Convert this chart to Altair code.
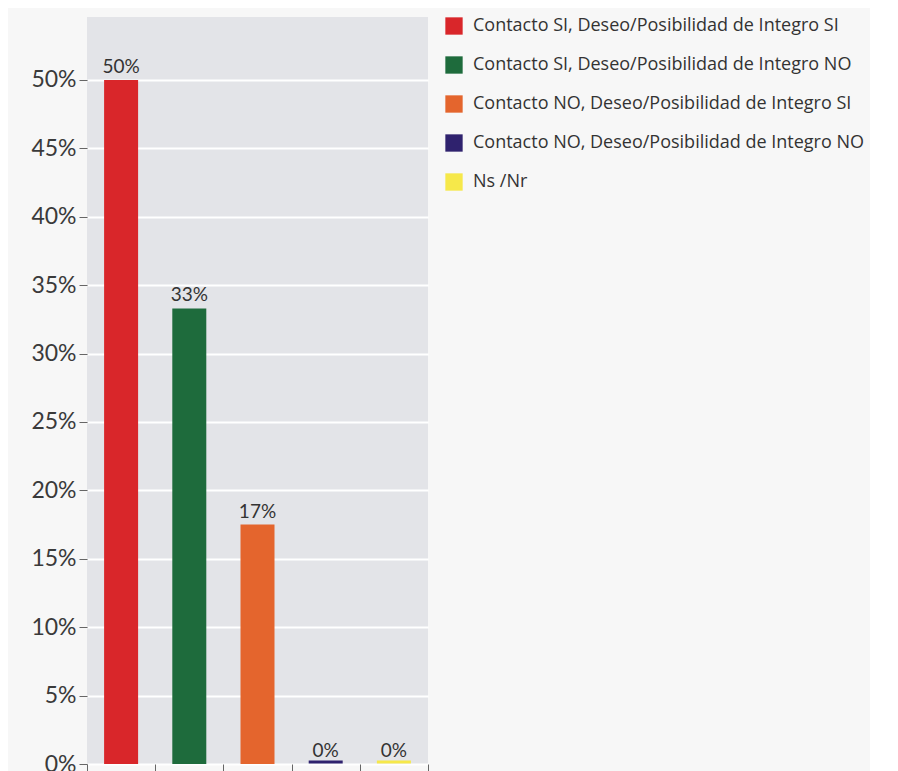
import altair as alt
import pandas as pd

categories = [
    "Contacto SI, Deseo/Posibilidad de Integro SI",
    "Contacto SI, Deseo/Posibilidad de Integro NO",
    "Contacto NO, Deseo/Posibilidad de Integro SI",
    "Contacto NO, Deseo/Posibilidad de Integro NO",
    "Ns /Nr",
]
values = [0.50, 0.333, 0.175, 0.0, 0.0]
labels = ["50%", "33%", "17%", "0%", "0%"]
colors = ["#d9262a", "#1e6b3c", "#e4652d", "#2f226e", "#f6e84a"]
y_ticks = [0, 0.05, 0.10, 0.15, 0.20, 0.25, 0.30, 0.35, 0.40, 0.45, 0.50]

df = pd.DataFrame({"cat": categories, "value": values, "label": labels})

FONT = "Lato"

x = alt.X("cat:N", sort=categories, title=None,
          scale=alt.Scale(paddingInner=0, paddingOuter=0),
          axis=alt.Axis(labels=False, domain=False, ticks=True, tickBand="extent",
                        tickColor="#666", tickSize=12, grid=False))
y = alt.Y("value:Q", title=None,
          scale=alt.Scale(domain=[0, 0.546], nice=False),
          axis=alt.Axis(values=y_ticks, format=".0%", domain=False,
                        tickColor="#666", tickSize=8, labelPadding=3,
                        labelFontSize=23, labelColor="#3a3a3a", labelFont=FONT,
                        gridColor="#ffffff", gridWidth=2, minExtent=74, maxExtent=74))
color = alt.Color("cat:N", sort=categories,
                  scale=alt.Scale(domain=categories, range=colors),
                  legend=alt.Legend(title=None, orient="right", offset=17,
                                    symbolType="square", symbolSize=300,
                                    symbolStrokeWidth=0, symbolOpacity=1,
                                    labelFontSize=18, labelFont="Open Sans",
                                    labelColor="#333", labelOffset=10,
                                    rowPadding=21, labelLimit=500))

base = alt.Chart(df).encode(x=x, y=y)

bars = base.mark_bar(size=34).encode(color=color)
zero_line = base.transform_filter("datum.value == 0").mark_tick(
    thickness=3, size=34, yOffset=-2, opacity=1).encode(color=color)
text = base.mark_text(baseline="bottom", dy=-3, fontSize=19, font=FONT,
                      color="#333").encode(text="label:N")

chart = (bars + zero_line + text).properties(
    width=341, height=747,
    padding={"left": 5, "top": 9, "right": 5, "bottom": 5},
    background="#f7f7f7",
).configure_view(fill="#e3e4e8", stroke=None)

chart.save("out.html", embed_options={"renderer": "svg", "actions": False})
